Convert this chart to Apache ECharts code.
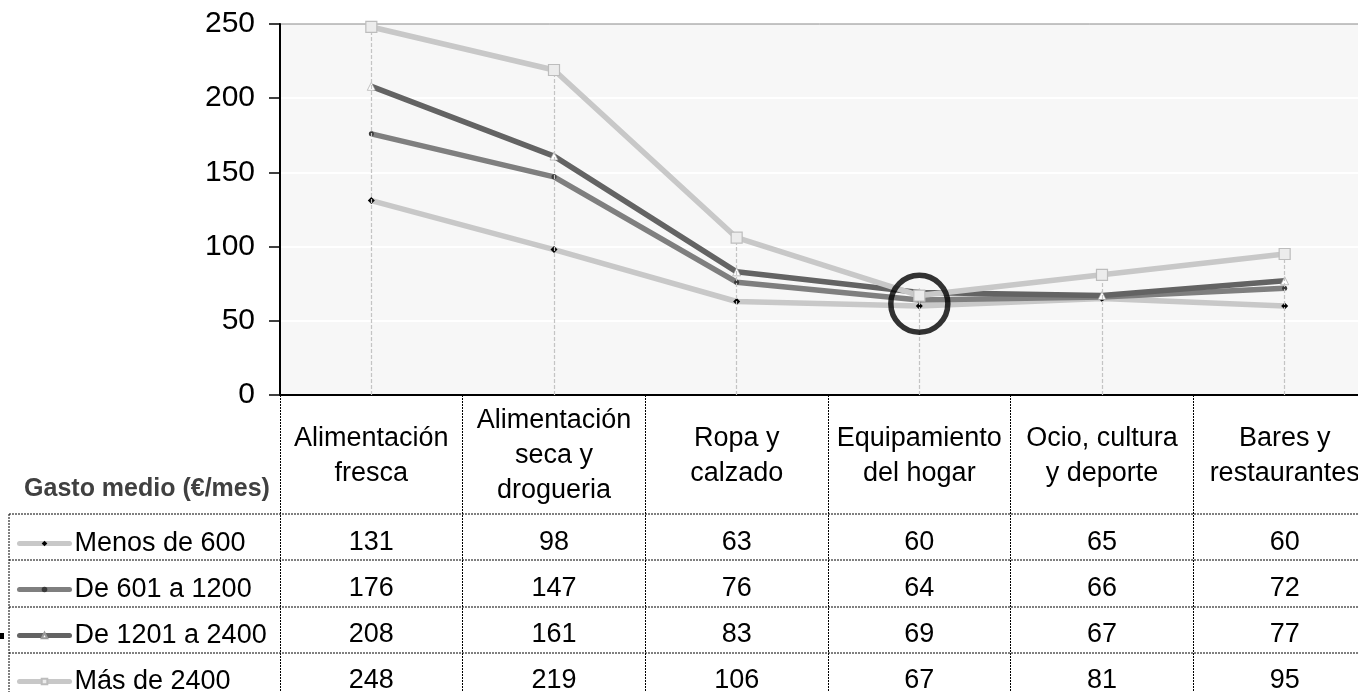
<!DOCTYPE html>
<html>
<head>
<meta charset="utf-8">
<script src="https://cdn.jsdelivr.net/npm/echarts@6/dist/echarts.min.js"></script>
<style>
html,body{margin:0;padding:0;background:#fff;}
#chart{width:1358px;height:692px;}
</style>
</head>
<body>
<div id="chart"></div>
<script>
// ---- data ----
const categories = ['Alimentación\nfresca', 'Alimentación\nseca y\ndrogueria', 'Ropa y\ncalzado', 'Equipamiento\ndel hogar', 'Ocio, cultura\ny deporte', 'Bares y\nrestaurantes'];
const seriesNames = ['Menos de 600', 'De 601 a 1200', 'De 1201 a 2400', 'Más de 2400'];
const menos600 = [131, 98, 63, 60, 65, 60];
const de601a1200 = [176, 147, 76, 64, 66, 72];
const de1201a2400 = [208, 161, 83, 69, 67, 77];
const mas2400 = [248, 219, 106, 67, 81, 95];
const yTicks = [0, 50, 100, 150, 200, 250];
const tableTitle = 'Gasto medio (€/mes)';
const highlight = [3, 61.5];

// ---- layout ----
const FONT = "'Liberation Sans', Arial, sans-serif";
const gridLeft = 280, gridTop = 24, gridW = 1096, gridH = 371;
const axisY = gridTop + gridH;
const rowLines = [514, 560, 607, 653];
const rowCenters = [543, 589, 635, 681];
const tableLeft = 9;
const dotted = [2, 1];

const allValues = [menos600, de601a1200, de1201a2400, mas2400];
const maxVals = categories.map((c, i) => Math.max(...allValues.map(a => a[i])));

const chart = echarts.init(document.getElementById('chart'), null, {renderer: 'canvas'});

const valueAxes = allValues.map((arr, k) => ({
  type: 'category',
  gridIndex: 0,
  position: 'bottom',
  offset: rowCenters[k] - axisY,
  data: categories,
  axisLine: {show: false},
  axisTick: {show: false},
  splitLine: {show: false},
  axisLabel: {
    interval: 0, margin: 0, verticalAlign: 'middle', hideOverlap: false,
    fontFamily: FONT, fontSize: 27, color: '#000',
    formatter: (v, i) => String(arr[i])
  }
}));

const lineDefs = [
  {color: '#c8c8c8', symbol: 'diamond', size: 7, item: {color: '#000'}},
  {color: '#7f7f7f', symbol: 'circle', size: 5, item: {color: '#3a3a3a'}},
  {color: '#636363', symbol: 'triangle', size: 8, item: {color: '#fff', borderColor: '#9a9a9a', borderWidth: 0.6}},
  {color: '#c8c8c8', symbol: 'rect', size: 11, item: {color: '#ececec', borderColor: '#bdbdbd', borderWidth: 1.2}}
];

const legends = seriesNames.map((name, k) => ({
  data: [name],
  orient: 'vertical',
  left: 17, top: rowCenters[k] - 13,
  itemWidth: 50, itemHeight: 7, itemGap: 0,
  padding: 0,
  selectedMode: false,
  lineStyle: {width: 5, cap: 'round'},
  textStyle: {fontFamily: FONT, fontSize: 27, color: '#000', lineHeight: 26}
}));

const graphics = [];
rowLines.forEach(y => {
  graphics.push({type: 'line', silent: true, shape: {x1: tableLeft, y1: y, x2: 1400, y2: y},
    style: {stroke: '#000', lineWidth: 1, lineDash: dotted}});
});
graphics.push({type: 'line', silent: true, shape: {x1: tableLeft, y1: rowLines[0], x2: tableLeft, y2: 700},
  style: {stroke: '#000', lineWidth: 1, lineDash: dotted}});
graphics.push({type: 'text', silent: true, x: 147, y: 489,
  style: {text: tableTitle, font: 'bold 25px ' + FONT, fill: '#404040', align: 'center', verticalAlign: 'middle'}});
graphics.push({type: 'rect', silent: true, shape: {x: 0, y: 633, width: 4, height: 6}, style: {fill: '#000'}});

const option = {
  animation: false,
  backgroundColor: '#fff',
  textStyle: {fontFamily: FONT},
  grid: {
    left: gridLeft, top: gridTop, width: gridW, height: gridH,
    containLabel: false, outerBoundsMode: 'none',
    show: true, backgroundColor: '#f7f7f7', borderColor: '#8a8a8a', borderWidth: 1
  },
  legend: legends,
  xAxis: [{
    type: 'category',
    gridIndex: 0,
    data: categories,
    boundaryGap: true,
    axisLine: {show: true, lineStyle: {color: '#000', width: 2}},
    axisTick: {show: true, interval: 0, length: 310, inside: false, lineStyle: {color: '#000', width: 1, type: dotted}},
    axisLabel: {
      interval: 0, margin: 61, verticalAlign: 'middle', hideOverlap: false,
      fontFamily: FONT, fontSize: 27, lineHeight: 35, color: '#000', align: 'center'
    },
    splitLine: {show: false}
  }].concat(valueAxes),
  yAxis: {
    type: 'value',
    min: yTicks[0], max: yTicks[yTicks.length - 1], interval: yTicks[1] - yTicks[0],
    axisLine: {show: true, lineStyle: {color: '#000', width: 2}},
    axisTick: {show: true, length: 11, lineStyle: {color: '#000', width: 1.5}},
    axisLabel: {fontFamily: FONT, fontSize: 30, color: '#000', margin: 25},
    splitLine: {show: true, showMinLine: false, showMaxLine: false, lineStyle: {color: '#fff', width: 2}}
  },
  graphic: graphics,
  series: [
    {
      name: 'drop', type: 'line', z: 1, data: maxVals, showSymbol: false, silent: true,
      lineStyle: {opacity: 0, width: 0},
      markLine: {
        silent: true, symbol: ['none', 'none'], label: {show: false},
        lineStyle: {color: '#c4c4c4', width: 1.2, type: [4, 2]},
        emphasis: {disabled: true},
        data: maxVals.map((m, i) => [{coord: [i, 0]}, {coord: [i, m]}])
      }
    }
  ].concat(allValues.map((arr, k) => ({
    name: seriesNames[k],
    type: 'line',
    z: 2 + k,
    data: arr,
    symbol: lineDefs[k].symbol,
    symbolSize: lineDefs[k].size,
    showSymbol: true,
    lineStyle: {color: lineDefs[k].color, width: 5.5},
    itemStyle: lineDefs[k].item,
    emphasis: {disabled: true}
  }))).concat([{
    name: 'highlight', type: 'scatter', z: 10, silent: true,
    data: [highlight],
    symbol: 'circle', symbolSize: 57,
    itemStyle: {color: 'rgba(0,0,0,0)', borderColor: '#000', borderWidth: 5.5}
  }])
};

chart.setOption(option);
</script>
</body>
</html>
